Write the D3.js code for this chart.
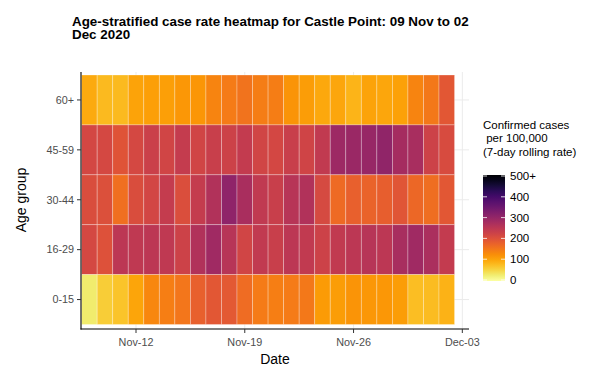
<!DOCTYPE html>
<html>
<head>
<meta charset="utf-8">
<script src="https://cdn.jsdelivr.net/npm/d3@7"></script>
<style>
  html, body { margin: 0; padding: 0; background: #fff; }
  svg { display: block; font-family: "Liberation Sans", Arial, sans-serif; }
</style>
</head>
<body>
<svg id="chart" width="589" height="372"></svg>
<script>
// ---- data ----
const dates = ["2020-11-09","2020-11-10","2020-11-11","2020-11-12","2020-11-13","2020-11-14",
  "2020-11-15","2020-11-16","2020-11-17","2020-11-18","2020-11-19","2020-11-20","2020-11-21",
  "2020-11-22","2020-11-23","2020-11-24","2020-11-25","2020-11-26","2020-11-27","2020-11-28",
  "2020-11-29","2020-11-30","2020-12-01","2020-12-02"];
const ageGroups = ["60+", "45-59", "30-44", "16-29", "0-15"];
const rate60plus = [95, 80, 80, 103, 107, 107, 115, 117, 135, 145, 155, 143, 143, 118, 108, 97, 98, 85, 103, 98, 105, 135, 150, 190];
const rate45to59 = [215, 213, 197, 213, 230, 220, 237, 220, 232, 225, 240, 220, 215, 232, 222, 242, 288, 292, 295, 303, 278, 275, 225, 210];
const rate30to44 = [207, 203, 160, 207, 218, 237, 205, 237, 262, 305, 273, 243, 232, 255, 262, 212, 165, 178, 175, 180, 195, 168, 162, 190];
const rate16to29 = [213, 200, 250, 245, 250, 245, 225, 262, 285, 255, 220, 242, 232, 250, 242, 225, 242, 250, 255, 250, 275, 285, 270, 240];
const rate0to15 = [28, 60, 70, 100, 132, 142, 152, 178, 190, 188, 163, 145, 142, 145, 150, 110, 108, 118, 115, 115, 108, 75, 78, 87];
const xTickLabels = ["Nov-12", "Nov-19", "Nov-26", "Dec-03"];
const xTickDates = ["2020-11-12", "2020-11-19", "2020-11-26", "2020-12-03"];
const legendTicks = [0, 100, 200, 300, 400, 500];
const legendTickLabels = ["0", "100", "200", "300", "400", "500+"];
const titleLines = ["Age-stratified case rate heatmap for Castle Point: 09 Nov to 02", "Dec 2020"];
const legendTitleLines = ["Confirmed cases", " per 100,000", "(7-day rolling rate)"];

const seriesByGroup = {"60+": rate60plus, "45-59": rate45to59, "30-44": rate30to44, "16-29": rate16to29, "0-15": rate0to15};
const parse = d3.utcParse("%Y-%m-%d");
const cells = [];
ageGroups.forEach(g => seriesByGroup[g].forEach((v, i) => cells.push({group: g, date: parse(dates[i]), value: v})));

// ---- layout ----
const svg = d3.select("#chart");
const panel = {left: 81, right: 469, top: 72, bottom: 329};
const DAY = 864e5;
const x = d3.scaleUtc()
  .domain([new Date(parse("2020-11-12").getTime() - 3.54 * DAY), new Date(parse("2020-12-03").getTime() + 0.43 * DAY)])
  .range([panel.left, panel.right]);
const y = d3.scaleBand().domain(ageGroups).range([75, 324.5]).padding(0);
const color = d3.scaleSequential(t => d3.interpolateInferno(1 - t)).domain([0, 500]).clamp(true);

// gridlines
const grid = svg.append("g");
grid.selectAll("line.h").data(ageGroups).join("line")
  .attr("x1", panel.left).attr("x2", panel.right)
  .attr("y1", d => y(d) + y.bandwidth() / 2).attr("y2", d => y(d) + y.bandwidth() / 2)
  .attr("stroke", "#EBEBEB").attr("stroke-width", 1);
grid.selectAll("line.v").data(xTickDates).join("line")
  .attr("y1", panel.top).attr("y2", panel.bottom)
  .attr("x1", d => x(parse(d))).attr("x2", d => x(parse(d)))
  .attr("stroke", "#EBEBEB").attr("stroke-width", 1);

// cells
svg.append("g").selectAll("rect").data(cells).join("rect")
  .attr("x", d => x(new Date(d.date.getTime() - DAY / 2)))
  .attr("width", d => x(new Date(d.date.getTime() + DAY / 2)) - x(new Date(d.date.getTime() - DAY / 2)))
  .attr("y", d => y(d.group))
  .attr("height", y.bandwidth())
  .attr("fill", d => color(d.value))
  .attr("stroke", "rgba(255,255,255,0.35)")
  .attr("stroke-width", 0.8);

// axes
const axisColor = "#000";
const textColor = "#4D4D4D";
// y axis
const yAxis = svg.append("g");
yAxis.append("line").attr("x1", panel.left).attr("x2", panel.left)
  .attr("y1", panel.top).attr("y2", panel.bottom + 0.5).attr("stroke", axisColor).attr("stroke-width", 1.1);
yAxis.selectAll("line.t").data(ageGroups).join("line")
  .attr("x1", panel.left - 4).attr("x2", panel.left)
  .attr("y1", d => y(d) + y.bandwidth() / 2).attr("y2", d => y(d) + y.bandwidth() / 2)
  .attr("stroke", "#333").attr("stroke-width", 1);
yAxis.selectAll("text").data(ageGroups).join("text")
  .attr("x", panel.left - 7).attr("y", d => y(d) + y.bandwidth() / 2)
  .attr("dy", "0.35em").attr("text-anchor", "end")
  .attr("font-size", 10.8).attr("fill", textColor).text(d => d);
// x axis
const xAxis = svg.append("g");
xAxis.append("line").attr("x1", panel.left - 0.5).attr("x2", panel.right)
  .attr("y1", panel.bottom).attr("y2", panel.bottom).attr("stroke", axisColor).attr("stroke-width", 1.1);
xAxis.selectAll("line.t").data(xTickDates).join("line")
  .attr("x1", d => x(parse(d))).attr("x2", d => x(parse(d)))
  .attr("y1", panel.bottom).attr("y2", panel.bottom + 4)
  .attr("stroke", "#333").attr("stroke-width", 1);
xAxis.selectAll("text").data(xTickDates).join("text")
  .attr("x", d => x(parse(d))).attr("y", panel.bottom + 13)
  .attr("dy", "0.35em").attr("text-anchor", "middle")
  .attr("font-size", 10.8).attr("fill", textColor).text((d, i) => xTickLabels[i]);

// axis titles
svg.append("text").attr("x", 275).attr("y", 364).attr("text-anchor", "middle")
  .attr("font-size", 14).attr("fill", "#000").text("Date");
svg.append("text").attr("transform", "translate(26,200) rotate(-90)").attr("text-anchor", "middle")
  .attr("font-size", 14).attr("fill", "#000").text("Age group");

// title
const title = svg.append("text").attr("font-weight", "bold").attr("font-size", 13.4).attr("fill", "#000");
titleLines.forEach((t, i) => title.append("tspan").attr("x", 72).attr("y", 25.5 + i * 13.5).text(t));

// legend
const lg = svg.append("g");
const lt = lg.append("text").attr("font-size", 11.5).attr("fill", "#000");
legendTitleLines.forEach((t, i) => lt.append("tspan").attr("x", 483).attr("y", 129 + i * 13.3)
  .attr("xml:space", "preserve").style("white-space", "pre").text(t));
const ly = d3.scaleLinear().domain([0, 500]).range([280, 176]);
const defs = svg.append("defs");
const grad = defs.append("linearGradient").attr("id", "lgGrad").attr("x1", 0).attr("x2", 0).attr("y1", 1).attr("y2", 0);
d3.range(0, 501, 25).forEach(v => grad.append("stop").attr("offset", v / 500).attr("stop-color", color(v)));
const barX = 483, barW = 22;
lg.append("rect").attr("x", barX).attr("y", ly(500) - 1).attr("width", barW).attr("height", ly(0) - ly(500) + 2)
  .attr("fill", "url(#lgGrad)");
lg.selectAll("line.l").data(legendTicks).join("line")
  .attr("x1", barX).attr("x2", barX + 4).attr("y1", d => ly(d)).attr("y2", d => ly(d))
  .attr("stroke", "#fff").attr("stroke-opacity", 0.8);
lg.selectAll("line.r").data(legendTicks).join("line")
  .attr("x1", barX + barW - 4).attr("x2", barX + barW).attr("y1", d => ly(d)).attr("y2", d => ly(d))
  .attr("stroke", "#fff").attr("stroke-opacity", 0.8);
lg.selectAll("text.tk").data(legendTicks).join("text")
  .attr("x", barX + barW + 5).attr("y", d => ly(d)).attr("dy", "0.35em")
  .attr("font-size", 11.5).attr("fill", "#000").text((d, i) => legendTickLabels[i]);
</script>
</body>
</html>
